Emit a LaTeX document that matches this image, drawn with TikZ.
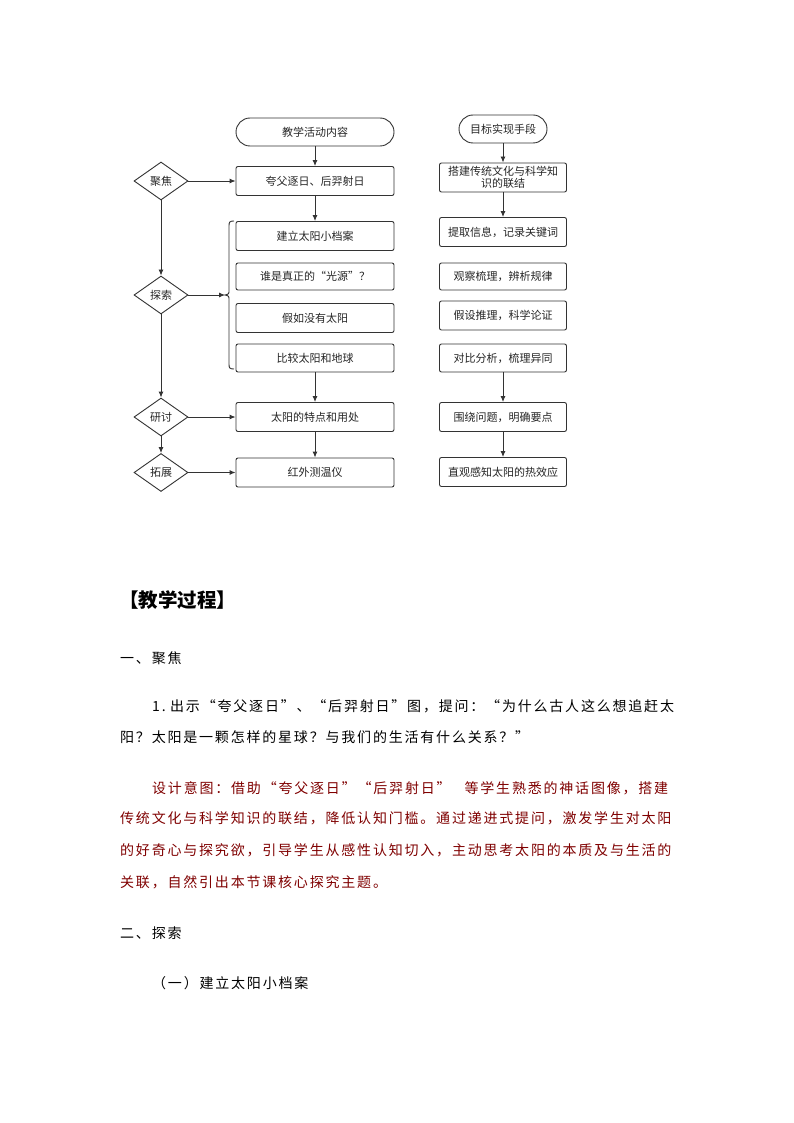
\documentclass[tikz,border=0pt]{standalone}
\usepackage{fontspec}
\setmainfont{Noto Sans CJK SC}
\newfontfamily\bodyfont[LetterSpace=12.86]{Noto Sans CJK SC}
\usetikzlibrary{arrows.meta,shapes.geometric}
\definecolor{lc}{RGB}{51,51,51}
\definecolor{dred}{RGB}{128,0,0}
\begin{document}
\begin{tikzpicture}[x=1pt,y=-1pt,
  box/.style={draw=lc, line width=0.9pt, rounded corners=2pt, minimum width=158pt, minimum height=29pt, inner sep=1pt, font=\fontsize{11}{12.5}\selectfont, align=center, text=black!85},
  rbox/.style={box, minimum width=127pt},
  term/.style={box, rounded corners=14pt, minimum height=28pt},
  dia/.style={diamond, draw=lc, line width=0.9pt, aspect=1.42, minimum width=54pt, minimum height=38pt, inner sep=0pt, font=\fontsize{11}{12.5}\selectfont, text=black!85},
  arr/.style={draw=lc, line width=0.9pt, -{Latex[length=6pt,width=5pt]}},
  body/.style={anchor=base west, inner sep=0pt, font=\fontsize{14}{16}\bodyfont}
]
\fill[white] (0,0) rectangle (794,1123);
\useasboundingbox (0,0) rectangle (794,1123);

% left column
\node[term] (a0) at (315,132) {教学活动内容};
\node[box] (a1) at (315,181) {夸父逐日、后羿射日};
\node[box] (a2) at (315,236) {建立太阳小档案};
\node[box, minimum height=27pt] (a3) at (315,276.5) {谁是真正的“光源”？};
\node[box] (a4) at (315,318) {假如没有太阳};
\node[box, minimum height=28pt] (a5) at (315,358) {比较太阳和地球};
\node[box] (a6) at (315,417) {太阳的特点和用处};
\node[box] (a7) at (315,472.5) {红外测温仪};

% right column
\node[term, minimum width=88pt] (b0) at (503,129) {目标实现手段};
\node[rbox] (b1) at (503,177.5) {搭建传统文化与科学知\\识的联结};
\node[rbox] (b2) at (503,232) {提取信息，记录关键词};
\node[rbox, minimum height=27pt] (b3) at (503,276.5) {观察梳理，辨析规律};
\node[rbox] (b4) at (503,315.5) {假设推理，科学论证};
\node[rbox, minimum height=28pt] (b5) at (503,358) {对比分析，梳理异同};
\node[rbox] (b6) at (503,417) {围绕问题，明确要点};
\node[rbox] (b7) at (503,472) {直观感知太阳的热效应};

% diamonds
\node[dia] (d1) at (161,181) {聚焦};
\node[dia] (d2) at (161,295) {探索};
\node[dia] (d3) at (161,417) {研讨};
\node[dia] (d4) at (161,472.5) {拓展};

% brace
\coordinate (tip) at (225,295);
\draw[lc, line width=0.9pt] (234,221) .. controls (229.5,221) and (229,222) .. (229,226) -- (229,290) .. controls (229,294) .. (tip) .. controls (229,296) .. (229,300) -- (229,364) .. controls (229,368) and (229.5,369) .. (234,369);

% connectors
\draw[arr] (a0) -- (a1);
\draw[arr] (a1) -- (a2);
\draw[arr] (a5) -- (a6);
\draw[arr] (a6) -- (a7);
\draw[arr] (b0) -- (b1);
\draw[arr] (b1) -- (b2);
\draw[arr] (b5) -- (b6);
\draw[arr] (b6) -- (b7);
\draw[arr] (d1) -- (a1);
\draw[arr] (d3) -- (a6);
\draw[arr] (d4) -- (a7);
\draw[arr] (d1) -- (d2);
\draw[arr] (d2) -- (d3);
\draw[arr] (d3) -- (d4);
\draw[arr] (d2) -- (tip);

% body text
\node[anchor=base west, inner sep=0pt, font=\fontsize{19.5}{21}\selectfont\bfseries] (t0) at (119,607) {【教学过程】};
\node[body] (t1) at (120,663) {一、聚焦};
\node[body] (t2) at (152,711) {\makebox[18pt][l]{1.}出示“夸父逐日”、“后羿射日”图，提问：“为什么古人这么想追赶太};
\node[body] (t3) at (120,742) {阳？太阳是一颗怎样的星球？与我们的生活有什么关系？”};
\node[body, text=dred] (t4) at (152,793) {设计意图：借助“夸父逐日”“后羿射日”\hspace{14pt}等学生熟悉的神话图像，搭建};
\node[body, text=dred] (t5) at (120,823) {传统文化与科学知识的联结，降低认知门槛。通过递进式提问，激发学生对太阳};
\node[body, text=dred] (t6) at (120,855) {的好奇心与探究欲，引导学生从感性认知切入，主动思考太阳的本质及与生活的};
\node[body, text=dred] (t7) at (120,887) {关联，自然引出本节课核心探究主题。};
\node[body] (t8) at (120,938) {二、探索};
\node[body] (t9) at (152,988) {（一）建立太阳小档案};
\end{tikzpicture}
\end{document}
